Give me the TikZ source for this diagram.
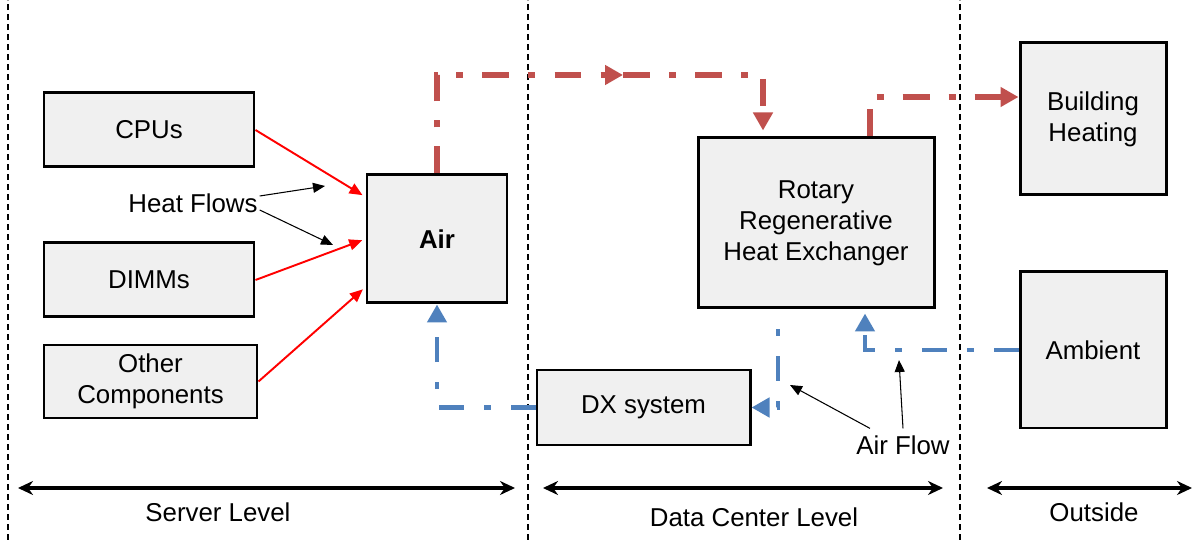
\documentclass[tikz,border=0pt]{standalone}
\usepackage{fontspec}
\setmainfont{Liberation Sans}
\usetikzlibrary{arrows.meta}
\usetikzlibrary{calc}
\usetikzlibrary{positioning}

\definecolor{boxgray}{HTML}{F0F0F0}
\definecolor{warmred}{HTML}{C0504D}
\definecolor{coolblue}{HTML}{4F81BD}

\begin{document}
\begin{tikzpicture}[
    font=\fontsize{14.7}{17.6}\selectfont,
    box/.style={draw=black,line width=1.7pt,fill=boxgray,align=center,inner sep=2pt},
    heat/.style={-{Triangle[length=0.26cm,width=0.22cm]},red,line width=1.1pt,shorten >=2pt},
    hint/.style={-{Triangle[length=0.24cm,width=0.2cm]},black,line width=0.6pt},
    warmflow/.style={draw=warmred,line width=3.4pt,
      dash pattern=on 0.54cm off 0.38cm on 0.14cm off 0.38cm},
    coolflow/.style={draw=coolblue,line width=2.8pt,
      dash pattern=on 0.5cm off 0.4cm on 0.14cm off 0.4cm},
    bigtip/.style={-{Triangle[length=0.36cm,width=0.38cm]}},
    level/.style={{Stealth[length=0.3cm,width=0.28cm]}-{Stealth[length=0.3cm,width=0.28cm]},line width=1.9pt},
    sep/.style={line width=0.6pt,dash pattern=on 0.12cm off 0.08cm},
    label/.style={inner sep=1pt}
  ]
  \useasboundingbox (0,0) rectangle (24.04,10.8);

  % Trennlinien zwischen den Ebenen
  \foreach \x in {0.16,10.56,19.2}
    \draw[sep] (\x,0) -- (\x,10.8);

  % Komponenten
  \node[box,minimum width=4.2cm,minimum height=1.48cm] (cpu) at (2.98,8.2) {CPUs};
  \node[box,minimum width=4.2cm,minimum height=1.48cm] (dimm) at (2.98,5.2) {DIMMs};
  \node[box,minimum width=4.26cm,minimum height=1.46cm] (other) at (3.01,3.17) {Other\\Components};
  \node[box,minimum width=2.8cm,minimum height=2.56cm] (air) at (8.74,6.02) {\textbf{Air}};
  \node[box,minimum width=4.72cm,minimum height=3.4cm] (rotary) at (16.32,6.34) {Rotary\\Regenerative\\Heat Exchanger};
  \node[box,minimum width=4.26cm,minimum height=1.5cm] (dx) at (12.87,2.65) {DX system};
  \node[box,minimum width=2.92cm,minimum height=3.04cm] (building) at (21.86,8.42) {Building\\Heating};
  \node[box,minimum width=2.92cm,minimum height=3.12cm] (ambient) at (21.86,3.8) {Ambient};

  % Waermestroeme zur Luft
  \draw[heat] (cpu.east) -- ([yshift=0.84cm]air.west);
  \draw[heat] (dimm.east) -- (air.west);
  \draw[heat] (other.east) -- ([yshift=-0.96cm]air.west);

  \node[label] (flows) at (3.86,6.74) {Heat Flows};
  \coordinate (f1) at (6.5,7.08);
  \coordinate (f2) at (6.66,5.9);
  \draw[hint] ([yshift=0.14cm]flows.east) -- (f1);
  \draw[hint] ([yshift=-0.14cm]flows.east) -- (f2);

  % warme Luft
  \coordinate (midtip) at (12.46,9.3);
  \coordinate (hx) at (15.26,9.3);
  \draw[warmflow,bigtip] (air.north) |- (midtip);
  \draw[warmflow,bigtip,shorten >=0.12cm] (midtip) -- (hx) -- (hx |- rotary.north);
  \draw[warmflow,bigtip] ($(rotary.north)+(1.08,0)$) |- ([yshift=0.44cm]building.west);

  % kalte Luft
  \draw[coolflow,bigtip,shorten >=0.08cm] (ambient.west) -| ($(rotary.south)+(0.98,0)$);
  \draw[coolflow,bigtip,dash phase=0.5cm] ($(rotary.south)+(-0.76,0)$) |- (dx.east);
  \draw[coolflow,bigtip] (dx.west) -| (air.south);

  \node[label] (airflow) at (18.06,1.9) {Air Flow};
  \coordinate (a1) at (15.8,3.1);
  \coordinate (a2) at (17.98,3.6);
  \draw[hint] ([xshift=-0.66cm,yshift=0.1cm]airflow.north) -- (a1);
  \draw[hint] ([yshift=0.1cm]airflow.north) -- (a2);

  % Ebenen
  \foreach \a/\b/\name/\x/\y [count=\i] in {0.36/10.3/Server Level/4.36/0.56,10.86/18.86/Data Center Level/15.08/0.46,19.74/23.84/Outside/21.88/0.56}
  {
    \coordinate (l\i) at (\a,1.04);
    \coordinate (r\i) at (\b,1.04);
    \draw[level] (l\i) -- (r\i);
    \node[label] (lvl\i) at (\x,\y) {\name};
  }
\end{tikzpicture}
\end{document}
